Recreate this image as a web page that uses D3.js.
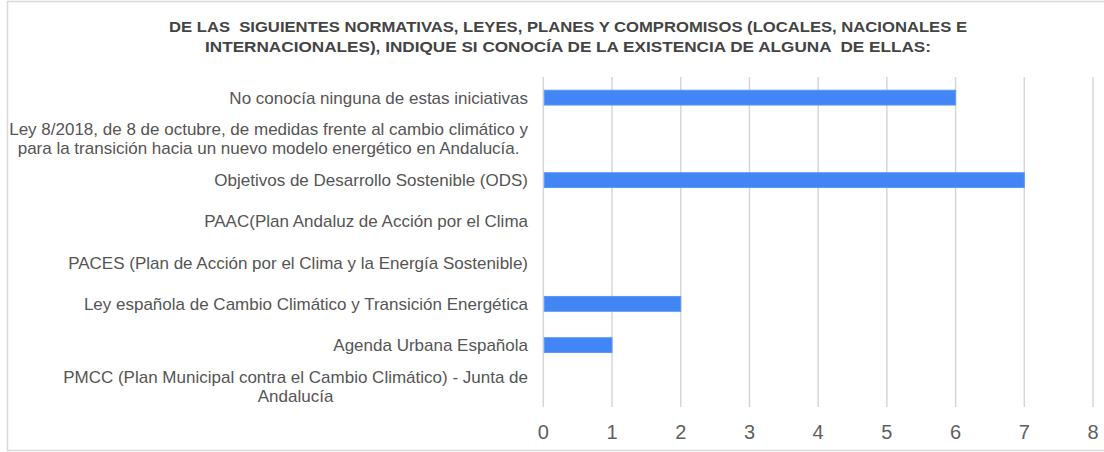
<!DOCTYPE html>
<html>
<head>
<meta charset="utf-8">
<script src="https://cdn.jsdelivr.net/npm/d3@7"></script>
<style>
  body { margin: 0; background: #fff; }
  svg { display: block; font-family: "Liberation Sans", Arial, sans-serif; }
  #title text { white-space: pre; }
</style>
</head>
<body>
<svg id="chart"></svg>
<script>
let titleLines = [
  "DE LAS  SIGUIENTES NORMATIVAS, LEYES, PLANES Y COMPROMISOS (LOCALES, NACIONALES E",
  "INTERNACIONALES), INDIQUE SI CONOCÍA DE LA EXISTENCIA DE ALGUNA  DE ELLAS:"
];
let categories = [
  "No conocía ninguna de estas iniciativas",
  "Ley 8/2018, de 8 de octubre, de medidas frente al cambio climático y para la transición hacia un nuevo modelo energético en Andalucía.",
  "Objetivos de Desarrollo Sostenible (ODS)",
  "PAAC(Plan Andaluz de Acción por el Clima",
  "PACES (Plan de Acción por el Clima y la Energía Sostenible)",
  "Ley española de Cambio Climático y Transición Energética",
  "Agenda Urbana Española",
  "PMCC (Plan Municipal contra el Cambio Climático) - Junta de Andalucía"
];
let counts = [6, 0, 7, 0, 0, 2, 1, 0];
let ticks = [0, 1, 2, 3, 4, 5, 6, 7, 8];

const width = 1104;
const height = 452;

let svg = d3.select("svg#chart")
  .attr("width", width)
  .attr("height", height);

// frame (right side runs off the picture)
svg.append("rect")
  .attr("x", 7.5).attr("y", 1.5)
  .attr("width", 1110).attr("height", 449)
  .attr("fill", "#fff")
  .attr("stroke", "#d9d9d9")
  .attr("stroke-width", 1.5);

let plot = { left: 543.3, right: 1093, top: 77, bottom: 407 };

let x = d3.scaleLinear()
  .domain([0, 8])
  .range([plot.left, plot.right]);

let y = d3.scaleBand()
  .domain(categories)
  .range([plot.top, plot.bottom])
  .paddingInner(0.64)
  .paddingOuter(0.32);

// title
svg.append("g").attr("id", "title")
  .selectAll("text")
  .data(titleLines)
  .join("text")
  .attr("x", 568)
  .attr("y", (d, i) => 32 + i * 20)
  .attr("text-anchor", "middle")
  .attr("font-size", 15)
  .attr("font-weight", "bold")
  .attr("fill", "#444")
  .attr("textLength", (d, i) => i == 0 ? 798 : 726)
  .attr("lengthAdjust", "spacingAndGlyphs")
  .text(d => d);

// grid
svg.append("g").attr("id", "grid")
  .selectAll("line")
  .data(ticks)
  .join("line")
  .attr("x1", d => x(d)).attr("x2", d => x(d))
  .attr("y1", plot.top).attr("y2", plot.bottom)
  .attr("stroke", "#d6d6d6")
  .attr("stroke-width", 1.5);

// x tick labels
svg.append("g").attr("id", "x-axis")
  .selectAll("text")
  .data(ticks)
  .join("text")
  .attr("x", d => x(d))
  .attr("y", 439)
  .attr("text-anchor", "middle")
  .attr("font-size", 20)
  .attr("fill", "#5f5f5f")
  .text(d => d);

// bars
svg.append("g").attr("id", "bars")
  .selectAll("rect")
  .data(categories.map((c, i) => [c, counts[i]]))
  .join("rect")
  .attr("x", x(0) + 1)
  .attr("y", d => y(d[0]))
  .attr("width", d => Math.max(0, x(d[1]) - x(0) - 1))
  .attr("height", y.bandwidth())
  .attr("fill", "#4285f4")
  .attr("stroke", "#5c97f6")
  .attr("stroke-width", d => d[1] > 0 ? 1 : 0);

// category labels, wrapped
const labelRight = 528;
const maxLabel = 530;
const lineH = 19;
const labelSize = 17;

let labels = svg.append("g").attr("id", "y-labels");
categories.forEach(function(c) {
  let g = labels.append("g");
  let probe = g.append("text")
    .attr("font-size", labelSize);
  let words = c.split(" ");
  let lines = [];
  let cur = [];
  words.forEach(function(w) {
    let test = cur.concat([w]).join(" ");
    probe.text(test);
    if (probe.node().getComputedTextLength() > maxLabel && cur.length) {
      lines.push(cur.join(" "));
      cur = [w];
    } else {
      cur.push(w);
    }
  });
  lines.push(cur.join(" "));
  let widths = lines.map(function(l) {
    probe.text(l);
    return probe.node().getComputedTextLength();
  });
  probe.remove();
  let maxW = d3.max(widths);
  let cy = y(c) + y.bandwidth() / 2;
  let cx = lines.length > 1 ? labelRight - maxW / 2 : labelRight;
  g.selectAll("text")
    .data(lines)
    .join("text")
    .attr("x", cx)
    .attr("y", (d, i) => cy + (i - (lines.length - 1) / 2) * lineH)
    .attr("dy", "0.35em")
    .attr("text-anchor", lines.length > 1 ? "middle" : "end")
    .attr("font-size", labelSize)
    .attr("fill", "#555")
    .text(d => d);
});
</script>
</body>
</html>
